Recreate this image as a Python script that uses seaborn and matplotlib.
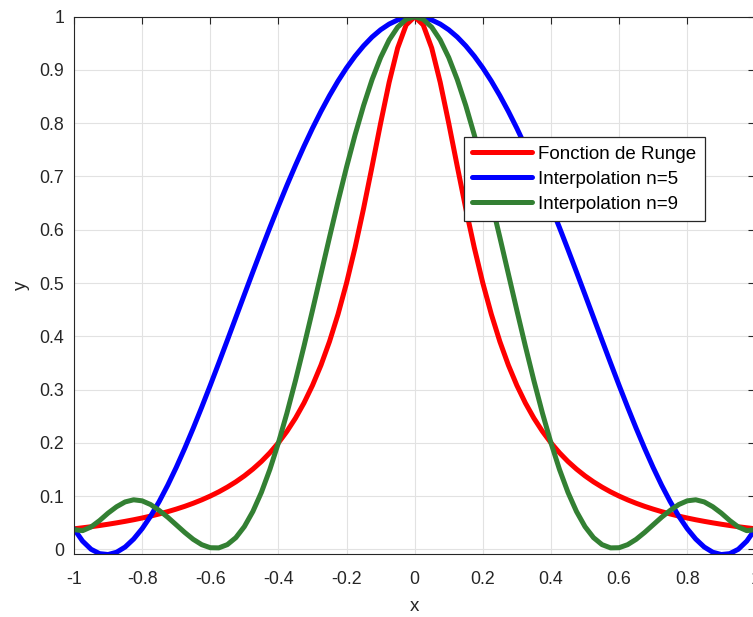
import matplotlib
matplotlib.use("Agg")
import matplotlib.pyplot as plt
import seaborn as sns
import pandas as pd

# Sample abscissae on [-1, 1]
x_values = [
    -1.000, -0.975, -0.950, -0.925, -0.900, -0.875, -0.850, -0.825, -0.800, -0.775,
    -0.750, -0.725, -0.700, -0.675, -0.650, -0.625, -0.600, -0.575, -0.550, -0.525,
    -0.500, -0.475, -0.450, -0.425, -0.400, -0.375, -0.350, -0.325, -0.300, -0.275,
    -0.250, -0.225, -0.200, -0.175, -0.150, -0.125, -0.100, -0.075, -0.050, -0.025,
    0.000,
    0.025, 0.050, 0.075, 0.100, 0.125, 0.150, 0.175, 0.200, 0.225, 0.250,
    0.275, 0.300, 0.325, 0.350, 0.375, 0.400, 0.425, 0.450, 0.475, 0.500,
    0.525, 0.550, 0.575, 0.600, 0.625, 0.650, 0.675, 0.700, 0.725, 0.750,
    0.775, 0.800, 0.825, 0.850, 0.875, 0.900, 0.925, 0.950, 0.975, 1.000,
]

# Runge function
runge = [
    0.0385, 0.0404, 0.0424, 0.0447, 0.0471, 0.0497, 0.0525, 0.0555, 0.0588, 0.0624,
    0.0664, 0.0707, 0.0755, 0.0807, 0.0865, 0.0929, 0.1000, 0.1079, 0.1168, 0.1267,
    0.1379, 0.1506, 0.1649, 0.1813, 0.2000, 0.2215, 0.2462, 0.2747, 0.3077, 0.3459,
    0.3902, 0.4414, 0.5000, 0.5664, 0.6400, 0.7191, 0.8000, 0.8767, 0.9412, 0.9846,
    1.0000,
    0.9846, 0.9412, 0.8767, 0.8000, 0.7191, 0.6400, 0.5664, 0.5000, 0.4414, 0.3902,
    0.3459, 0.3077, 0.2747, 0.2462, 0.2215, 0.2000, 0.1813, 0.1649, 0.1506, 0.1379,
    0.1267, 0.1168, 0.1079, 0.1000, 0.0929, 0.0865, 0.0807, 0.0755, 0.0707, 0.0664,
    0.0624, 0.0588, 0.0555, 0.0525, 0.0497, 0.0471, 0.0447, 0.0424, 0.0404, 0.0385,
]

# Interpolating polynomial, 5 nodes
interp_n5 = [
    0.0385, 0.0155, 0.0001, -0.0081, -0.0098, -0.0055, 0.0043, 0.0193, 0.0388, 0.0624,
    0.0897, 0.1203, 0.1537, 0.1896, 0.2275, 0.2671, 0.3080, 0.3499, 0.3924, 0.4353,
    0.4782, 0.5208, 0.5629, 0.6042, 0.6444, 0.6834, 0.7208, 0.7566, 0.7905, 0.8223,
    0.8519, 0.8792, 0.9039, 0.9260, 0.9453, 0.9619, 0.9755, 0.9862, 0.9939, 0.9985,
    1.0000,
    0.9985, 0.9939, 0.9862, 0.9755, 0.9619, 0.9453, 0.9260, 0.9039, 0.8792, 0.8519,
    0.8223, 0.7905, 0.7566, 0.7208, 0.6834, 0.6444, 0.6042, 0.5629, 0.5208, 0.4782,
    0.4353, 0.3924, 0.3499, 0.3080, 0.2671, 0.2275, 0.1896, 0.1537, 0.1203, 0.0897,
    0.0624, 0.0388, 0.0193, 0.0043, -0.0055, -0.0098, -0.0081, 0.0001, 0.0155, 0.0385,
]

# Interpolating polynomial, 9 nodes
interp_n9 = [
    0.0370, 0.0350, 0.0420, 0.0540, 0.0680, 0.0800, 0.0890, 0.0930, 0.0910, 0.0840,
    0.0730, 0.0603, 0.0460, 0.0317, 0.0187, 0.0087, 0.0030, 0.0027, 0.0088, 0.0219,
    0.0426, 0.0710, 0.1069, 0.1501, 0.2000, 0.2558, 0.3166, 0.3813, 0.4486, 0.5172,
    0.5859, 0.6531, 0.7176, 0.7781, 0.8332, 0.8820, 0.9233, 0.9563, 0.9804, 0.9951,
    1.0000,
    0.9951, 0.9804, 0.9563, 0.9233, 0.8820, 0.8332, 0.7781, 0.7176, 0.6531, 0.5859,
    0.5172, 0.4486, 0.3813, 0.3166, 0.2558, 0.2000, 0.1501, 0.1069, 0.0710, 0.0426,
    0.0219, 0.0088, 0.0027, 0.0030, 0.0087, 0.0187, 0.0317, 0.0460, 0.0603, 0.0730,
    0.0840, 0.0910, 0.0930, 0.0890, 0.0800, 0.0680, 0.0540, 0.0420, 0.0350, 0.0370,
]

series_names = ["Fonction de Runge", "Interpolation n=5", "Interpolation n=9"]
series_colors = ["#ff0000", "#0000ff", "#338033"]

x_ticks = [-1.0, -0.8, -0.6, -0.4, -0.2, 0.0, 0.2, 0.4, 0.6, 0.8, 1.0]
x_tick_labels = ["-1", "-0.8", "-0.6", "-0.4", "-0.2", "0", "0.2", "0.4", "0.6", "0.8", "1"]
y_ticks = [0.0, 0.1, 0.2, 0.3, 0.4, 0.5, 0.6, 0.7, 0.8, 0.9, 1.0]
y_tick_labels = ["0", "0.1", "0.2", "0.3", "0.4", "0.5", "0.6", "0.7", "0.8", "0.9", "1"]

sns.set_style("white")
plt.rcParams["font.family"] = ["Liberation Sans", "DejaVu Sans"]
plt.rcParams["axes.unicode_minus"] = False

dark = "#262626"

fig = plt.figure(figsize=(7.53, 6.17), dpi=100)
ax = fig.add_axes([0.0983, 0.1021, 0.9048, 0.8708])

df = pd.DataFrame({
    "x": x_values * 3,
    "y": runge + interp_n5 + interp_n9,
    "courbe": [name for name in series_names for _ in x_values],
})

sns.lineplot(
    data=df, x="x", y="y", hue="courbe", hue_order=series_names,
    palette=dict(zip(series_names, series_colors)),
    linewidth=3.6, sort=False, estimator=None, ax=ax,
)

ax.set_xlim(-1.0, 1.0)
ax.set_ylim(-0.0088, 1.0)
ax.set_xticks(x_ticks)
ax.set_xticklabels(x_tick_labels)
ax.set_yticks(y_ticks)
ax.set_yticklabels(y_tick_labels)

ax.grid(True, color="#e2e2e2", linewidth=0.8)
ax.set_axisbelow(True)

ax.tick_params(axis="both", direction="in", length=5, width=0.8, color=dark,
               labelcolor=dark, labelsize=12.8, top=True, right=True)
ax.tick_params(axis="x", pad=12)
ax.tick_params(axis="y", pad=7)

for side in ["left", "right", "top", "bottom"]:
    ax.spines[side].set_visible(True)
    ax.spines[side].set_color(dark)
    ax.spines[side].set_linewidth(0.8)

ax.set_xlabel("x", fontsize=13.5, color=dark, labelpad=7.5)
ax.set_ylabel("y", fontsize=13.5, color=dark, labelpad=7)

handles, labels = ax.get_legend_handles_labels()
leg = ax.legend(
    handles, labels, loc="upper left", bbox_to_anchor=(0.5724, 0.7761),
    borderaxespad=0, frameon=True, fancybox=False, framealpha=1,
    edgecolor=dark, fontsize=13.5, handlelength=3.2, handletextpad=0.3,
    labelspacing=0.42, borderpad=0.45,
)
leg.get_frame().set_linewidth(0.9)
for text in leg.get_texts():
    text.set_color("#000000")

fig.savefig("out.png", dpi=100)
